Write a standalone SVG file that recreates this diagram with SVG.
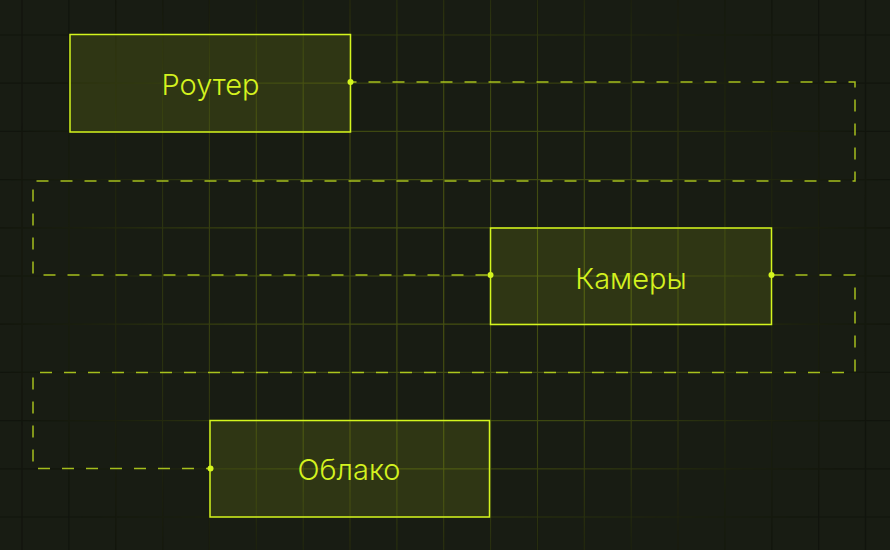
<svg xmlns="http://www.w3.org/2000/svg" width="890" height="550" viewBox="0 0 890 550">
  <defs>
    <radialGradient id="glow" cx="445" cy="275" r="460" gradientUnits="userSpaceOnUse" gradientTransform="translate(445 275) scale(1 0.9) translate(-445 -275)">
      <stop offset="0" stop-color="#fff" stop-opacity="1"/>
      <stop offset="0.45" stop-color="#fff" stop-opacity="0.8"/>
      <stop offset="0.8" stop-color="#fff" stop-opacity="0.18"/>
      <stop offset="1" stop-color="#fff" stop-opacity="0"/>
    </radialGradient>
    <mask id="gridMask" maskUnits="userSpaceOnUse" x="0" y="0" width="890" height="550">
      <rect width="890" height="550" fill="url(#glow)"/>
    </mask>
    <path id="gridLines" d="M22 0V550M68.9 0V550M115.7 0V550M162.6 0V550M209.4 0V550M256.3 0V550M303.2 0V550M350 0V550M396.9 0V550M443.7 0V550M490.6 0V550M537.5 0V550M584.3 0V550M631.2 0V550M678 0V550M724.9 0V550M771.8 0V550M818.6 0V550M865.5 0V550M0 35H890M0 83.2H890M0 131.4H890M0 179.6H890M0 227.8H890M0 276H890M0 324.2H890M0 372.4H890M0 420.6H890M0 468.8H890M0 517H890"/>
  </defs>
  <style>
    .node rect { fill: #d4f51e; fill-opacity: 0.12; stroke: #d4f51e; stroke-width: 1.5; }
    .node text { font-family: Inter, "Noto Sans", "Liberation Sans", sans-serif; font-size: 29px; font-weight: 300; fill: #d4f21f; text-anchor: middle; }
    .port { fill: #d4f51e; }
    .conn { fill: none; stroke: #c8e620; stroke-opacity: 0.8; stroke-width: 1.5; stroke-dasharray: 12 12; }
  </style>
  <rect id="background" width="890" height="550" fill="#181c13"/>
  <g id="grid">
    <use href="#gridLines" fill="none" stroke="#0c0f09" stroke-opacity="0.55" stroke-width="1.2"/>
    <use href="#gridLines" fill="none" stroke="#c8e620" stroke-opacity="0.3" stroke-width="1.2" mask="url(#gridMask)"/>
  </g>
  <g id="connectors">
    <path class="conn" style="stroke-dashoffset:6" d="M350.5 82H855V181H33V275H490.5"/>
    <path class="conn" d="M771.5 275H855V372.5H33V468.5H210"/>
  </g>
  <g id="node-router" class="node">
    <rect x="70" y="34.5" width="280.5" height="97.5"/>
    <text x="210.5" y="95.3">Роутер</text>
    <circle class="port" cx="350.5" cy="82" r="3"/>
  </g>
  <g id="node-cameras" class="node">
    <rect x="490.5" y="228" width="281" height="96.5"/>
    <text x="631" y="288.6">Камеры</text>
    <circle class="port" cx="490.5" cy="275" r="3"/>
    <circle class="port" cx="771.5" cy="275" r="3"/>
  </g>
  <g id="node-cloud" class="node">
    <rect x="210" y="420.5" width="279.5" height="96.5"/>
    <text x="349" y="479.6">Облако</text>
    <circle class="port" cx="210.5" cy="468.5" r="3"/>
  </g>
</svg>
